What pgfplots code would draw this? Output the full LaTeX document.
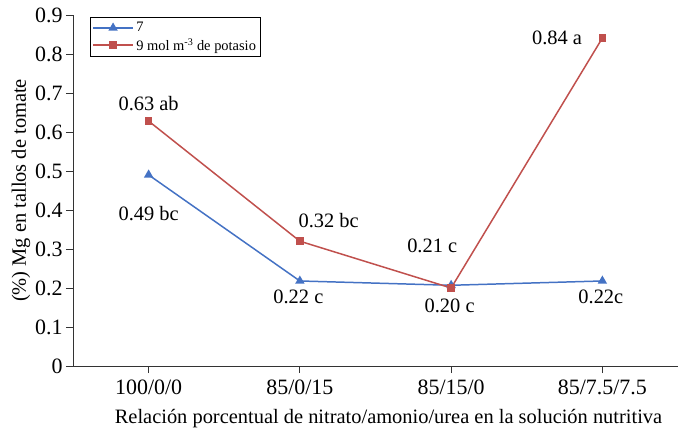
\documentclass[border=0pt]{standalone}
\usepackage{pgfplots}
\pgfplotsset{compat=1.18}
\usepackage{fontspec}
\setmainfont{Liberation Serif}
\definecolor{serieA}{RGB}{68,114,196}
\definecolor{serieB}{RGB}{192,80,77}

\begin{document}
\begin{tikzpicture}
\begin{axis}[
  scale only axis, width=605bp, height=351bp,
  xmin=0, xmax=4, ymin=0, ymax=0.9,
  axis x line=bottom, axis y line=left,
  axis line style={-, line width=1pt, black!80},
  xtick={0.5,1.5,2.5,3.5},
  xticklabels={100/0/0,85/0/15,85/15/0,85/7.5/7.5},
  ytick={0,0.1,0.2,0.3,0.4,0.5,0.6,0.7,0.8,0.9},
  yticklabel style={/pgf/number format/fixed,/pgf/number format/precision=1},
  /pgf/number format/assume math mode=true,
  tick align=outside, major tick length=7bp,
  tick style={line width=1pt, black!80},
  ticklabel style={font=\fontsize{22}{25}\selectfont},
  xticklabel style={yshift=-3bp},
  label style={font=\fontsize{20.5}{24}\selectfont},
  xlabel={Relación porcentual de nitrato/amonio/urea en la solución nutritiva},
  ylabel={(\%) Mg en tallos de tomate},
  xlabel style={yshift=-8bp, xshift=13bp},
  ylabel style={yshift=-2bp},
  legend style={at={(rel axis cs:0.028,0.994)}, anchor=north west,
    font=\fontsize{14.5}{16}\selectfont, draw=black, line width=0.8pt,
    inner xsep=2pt, inner ysep=3pt, row sep=1pt,
    nodes={inner xsep=2.5pt}},
  legend cell align=left,
]
\coordinate (O) at (rel axis cs:0,0);
\addplot[serieA, line width=1.5pt, mark=triangle*, mark size=4bp, mark options={solid},
  legend image code/.code={\draw[mark repeat=2,mark phase=2] plot coordinates {(0bp,0bp)(20bp,0bp)(40bp,0bp)};}] coordinates {
(0.5,0.49) (1.5,0.218) (2.5,0.207) (3.5,0.218)
};
\addlegendentry{7}
\addplot[serieB, line width=1.5pt, mark=square*, mark size=3bp, mark options={solid},
  legend image code/.code={\draw[mark repeat=2,mark phase=2] plot coordinates {(0bp,0bp)(20bp,0bp)(40bp,0bp)};}] coordinates {
(0.5,0.628) (1.5,0.32) (2.5,0.20) (3.5,0.841)
};
\addlegendentry{9 mol m\textsuperscript{-3} de potasio}
\begin{scope}[every node/.style={font=\fontsize{20.5}{24}\selectfont}]
\node at (axis cs:0.5,0.674) {0.63 ab};
\node at (axis cs:0.5,0.392) {0.49 bc};
\node at (axis cs:1.69,0.372) {0.32 bc};
\node at (axis cs:1.49,0.177) {0.22 c};
\node at (axis cs:2.375,0.308) {0.21 c};
\node at (axis cs:2.49,0.154) {0.20 c};
\node at (axis cs:3.2,0.841) {0.84 a};
\node at (axis cs:3.49,0.177) {0.22c};
\end{scope}
\end{axis}
\pgfresetboundingbox
\path (O) ++(-73bp,-66bp) rectangle ++(678bp,432bp);
\end{tikzpicture}
\end{document}
